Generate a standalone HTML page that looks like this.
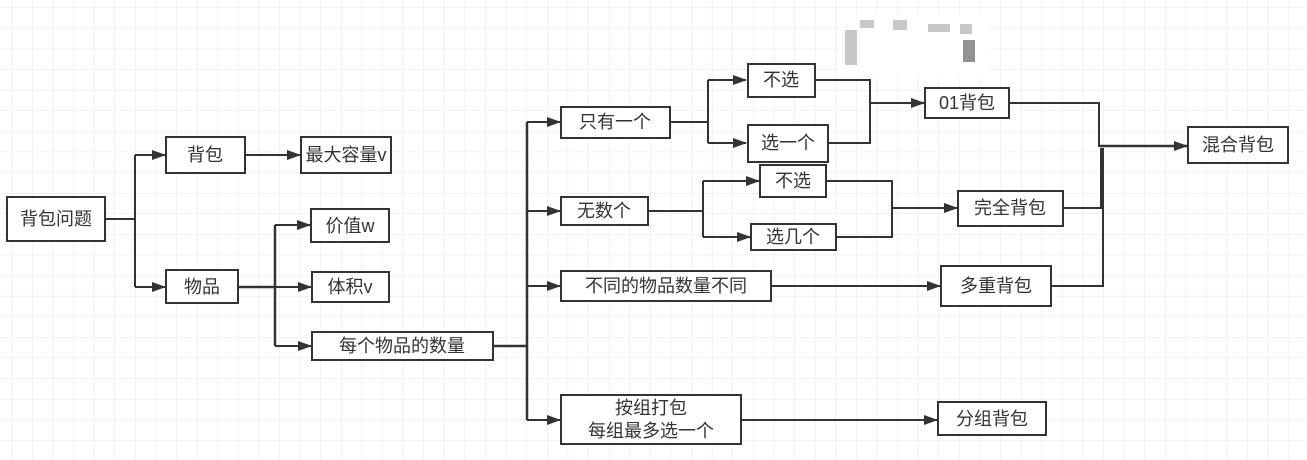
<!DOCTYPE html>
<html><head><meta charset="utf-8"><style>
html,body{margin:0;padding:0;background:#fff}
svg{display:block}
text{font-family:"Liberation Sans","Noto Sans CJK SC",sans-serif;font-size:18px;fill:#333;text-anchor:middle;dominant-baseline:central}
</style></head><body>
<svg width="1307" height="460" viewBox="0 0 1307 460" xmlns="http://www.w3.org/2000/svg">
<defs>
<pattern id="g" width="20.6" height="20.6" patternUnits="userSpaceOnUse" x="12" y="8">
<path d="M20.6 0V20.6M0 20.6H20.6" stroke="#e4e4e4" stroke-width="1" fill="none"/>
</pattern>
<marker id="a" markerWidth="14" markerHeight="10" refX="13" refY="5" orient="auto" markerUnits="userSpaceOnUse">
<path d="M0,0L14,5L0,10Z" fill="#333"/>
</marker>
</defs>
<rect width="1307" height="460" fill="url(#g)"/>
<rect x="838" y="15" width="150" height="62" fill="#fff"/>
<g fill="#bbb" opacity="0.8">
<rect x="845" y="30" width="12" height="35"/><rect x="860" y="20" width="14" height="8"/>
<rect x="893" y="20" width="14" height="10"/><rect x="928" y="24" width="22" height="8"/>
<rect x="960" y="24" width="12" height="10"/><rect x="963" y="40" width="12" height="22" fill="#777"/>
</g>
<g stroke="#333" stroke-width="2" fill="none">
<path d="M105 219H135M135 155V287"/>
<path d="M135 155H165" marker-end="url(#a)"/>
<path d="M135 287H165" marker-end="url(#a)"/>
<path d="M245 155H300" marker-end="url(#a)"/>
<path d="M238 287H275M275 225V346" stroke-width="2.5"/>
<path d="M275 225H310" marker-end="url(#a)"/>
<path d="M275 287H311" marker-end="url(#a)"/>
<path d="M275 346H311" marker-end="url(#a)"/>
<path d="M493 346H527M527 122V420" stroke-width="2.5"/>
<path d="M527 122H560" marker-end="url(#a)"/>
<path d="M527 211H560" marker-end="url(#a)"/>
<path d="M527 286H560" marker-end="url(#a)"/>
<path d="M527 420H560" marker-end="url(#a)"/>
<path d="M670 122H708M708 80V143"/>
<path d="M708 80H746" marker-end="url(#a)"/>
<path d="M708 143H746" marker-end="url(#a)"/>
<path d="M815 80H870V143H828M870 103H900"/>
<path d="M870 103H924" marker-end="url(#a)"/>
<path d="M648 211H703M703 181V237"/>
<path d="M703 181H759" marker-end="url(#a)"/>
<path d="M703 237H750" marker-end="url(#a)"/>
<path d="M826 181H892V237H836"/>
<path d="M892 208H957" marker-end="url(#a)"/>
<path d="M771 286H940" marker-end="url(#a)"/>
<path d="M741 420H937" marker-end="url(#a)"/>
<path d="M1009 103H1099V146H1120"/>
<path d="M1063 208H1101V148"/>
<path d="M1051 286H1103V148"/>
<path d="M1100 146H1187" marker-end="url(#a)" stroke-width="2.5"/>
</g>
<g stroke="#333" stroke-width="2" fill="#fff">
<rect x="7" y="197" width="98" height="44"/>
<rect x="166" y="137" width="79" height="36"/>
<rect x="301" y="137" width="90" height="36"/>
<rect x="166" y="270" width="72" height="33"/>
<rect x="311" y="209" width="78" height="33"/>
<rect x="312" y="272" width="77" height="30"/>
<rect x="312" y="332" width="181" height="28"/>
<rect x="561" y="107" width="109" height="31"/>
<rect x="561" y="197" width="87" height="28"/>
<rect x="561" y="271" width="210" height="30"/>
<rect x="561" y="395" width="180" height="49"/>
<rect x="748" y="64" width="67" height="33"/>
<rect x="748" y="125" width="80" height="37"/>
<rect x="760" y="165" width="66" height="32"/>
<rect x="751" y="224" width="85" height="26"/>
<rect x="925" y="88" width="84" height="30"/>
<rect x="958" y="191" width="105" height="35"/>
<rect x="941" y="266" width="110" height="40"/>
<rect x="938" y="402" width="108" height="33"/>
<rect x="1188" y="127" width="100" height="36"/>
</g>
<text x="56" y="219">背包问题</text>
<text x="205" y="155">背包</text>
<text x="346" y="155">最大容量v</text>
<text x="202" y="287">物品</text>
<text x="350" y="226">价值w</text>
<text x="350" y="287">体积v</text>
<text x="402" y="346">每个物品的数量</text>
<text x="615" y="122">只有一个</text>
<text x="604" y="211">无数个</text>
<text x="666" y="286">不同的物品数量不同</text>
<text x="651" y="408">按组打包</text>
<text x="651" y="431">每组最多选一个</text>
<text x="781" y="80">不选</text>
<text x="788" y="143">选一个</text>
<text x="793" y="181">不选</text>
<text x="793" y="237">选几个</text>
<text x="967" y="103">01背包</text>
<text x="1010" y="208">完全背包</text>
<text x="996" y="286">多重背包</text>
<text x="992" y="419">分组背包</text>
<text x="1238" y="145">混合背包</text>
</svg>
</body></html>
